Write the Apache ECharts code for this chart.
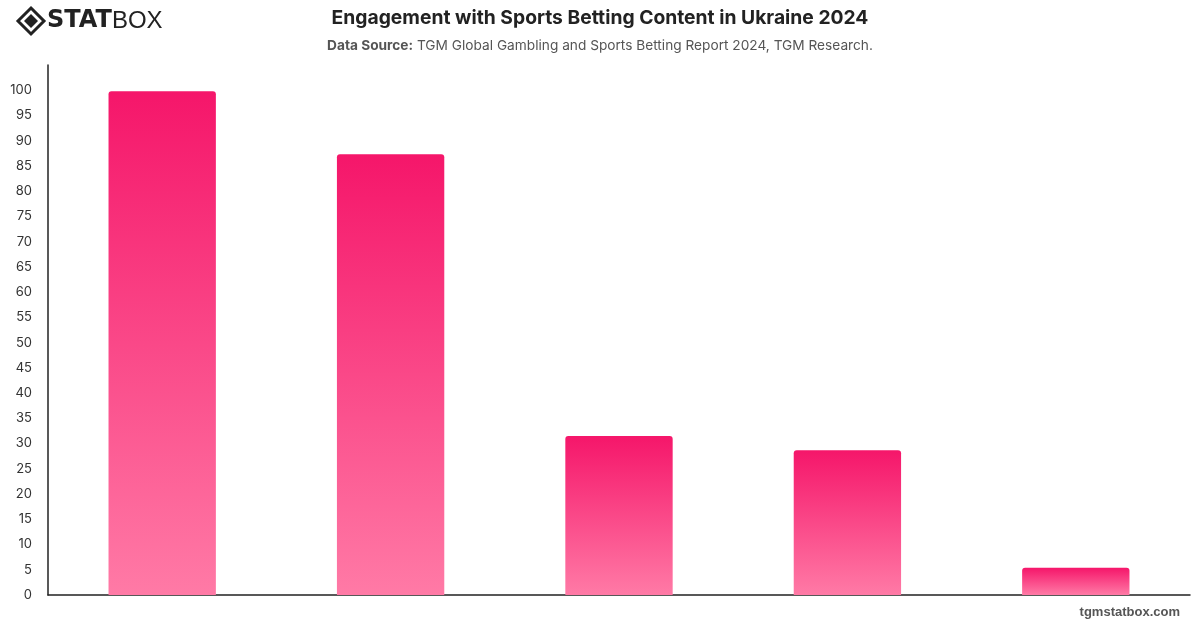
<!DOCTYPE html>
<html>
<head>
<meta charset="utf-8">
<script src="https://cdn.jsdelivr.net/npm/echarts@6/dist/echarts.min.js"></script>
<style>
  html, body { margin: 0; padding: 0; background: #fff; }
  #chart { width: 1200px; height: 628px; }
</style>
</head>
<body>
<div id="chart"></div>
<script>
// data
const categories = ['A', 'B', 'C', 'D', 'E'];
const values = [99.8, 87.3, 31.5, 28.7, 5.4];
const yTicks = { min: 0, max: 105, interval: 5 };

const chart = echarts.init(document.getElementById('chart'));

const barGradient = new echarts.graphic.LinearGradient(0, 0, 0, 1, [
  { offset: 0, color: '#f5166a' },
  { offset: 1, color: '#ff7aa6' },
]);

chart.setOption({
  animation: false,
  backgroundColor: '#ffffff',
  textStyle: { fontFamily: 'Inter, "Noto Sans", sans-serif' },
  title: {
    text: 'Engagement with Sports Betting Content in Ukraine 2024',
    subtext: '{b|Data Source:} TGM Global Gambling and Sports Betting Report 2024, TGM Research.',
    left: 'center',
    top: 4,
    itemGap: 11,
    textStyle: { fontSize: 19.3, fontWeight: 'bold', color: '#222' },
    subtextStyle: {
      fontSize: 13.7,
      color: '#555',
      rich: { b: { fontSize: 13.7, fontWeight: 'bold', color: '#555' } },
    },
  },
  grid: { left: 48, right: 10, top: 65, bottom: 33 },
  xAxis: {
    type: 'category',
    data: categories,
    axisLine: { lineStyle: { color: '#222', width: 1.5 } },
    axisTick: { show: false },
    axisLabel: { show: false },
  },
  yAxis: {
    type: 'value',
    min: yTicks.min,
    max: yTicks.max,
    interval: yTicks.interval,
    axisLine: { show: true, lineStyle: { color: '#222', width: 1.5 } },
    axisTick: { show: false },
    splitLine: { show: false },
    axisLabel: {
      color: '#333',
      fontSize: 13,
      margin: 16,
      formatter: v => (v > 100 ? '' : v),
    },
  },
  series: [{
    type: 'bar',
    data: values,
    barWidth: '47%',
    itemStyle: { color: barGradient, borderRadius: [3, 3, 0, 0] },
  }],
  graphic: [
    // logo
    {
      type: 'polygon',
      shape: { points: [[31, 8], [44, 21], [31, 34], [18, 21]] },
      style: { fill: 'none', stroke: '#222', lineWidth: 3 },
    },
    {
      type: 'polygon',
      shape: { points: [[31, 14], [38, 21], [31, 28], [24, 21]] },
      style: { fill: '#222' },
    },
    {
      type: 'text',
      left: 47,
      top: 9,
      style: {
        text: '{s|STAT}{b|BOX}',
        rich: {
          s: { fontSize: 24, fontWeight: 900, fontFamily: '"DejaVu Sans", sans-serif', fill: '#222' },
          b: { fontSize: 24, fontWeight: 'normal', fontFamily: '"Liberation Sans", sans-serif', fill: '#222' },
        },
      },
    },
    {
      type: 'text',
      right: 20,
      top: 606,
      style: { text: 'tgmstatbox.com', fontSize: 13, fontWeight: 'bold', fill: '#555' },
    },
  ],
});
</script>
</body>
</html>
